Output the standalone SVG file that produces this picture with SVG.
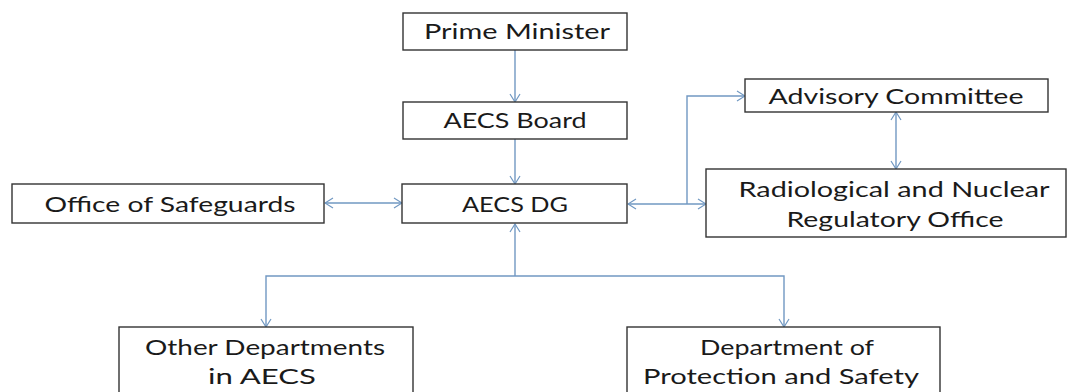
<svg xmlns="http://www.w3.org/2000/svg" width="1076" height="392" viewBox="0 0 1076 392">
<style>
.box{fill:#fff;stroke:#333;stroke-width:1.4}
.t{font-family:Lato,"Open Sans","Liberation Sans",sans-serif;font-size:22px;fill:#1a1a1a;text-anchor:middle}
.c{fill:none;stroke:#7198c2;stroke-width:1.4}
</style>
<defs>
<marker id="a" viewBox="0 0 10 12" refX="9" refY="6" markerWidth="10" markerHeight="12" markerUnits="userSpaceOnUse" orient="auto-start-reverse">
<path d="M1,1 L9,6 L1,11" fill="none" stroke="#7198c2" stroke-width="1.2"/>
</marker>
</defs>
<rect width="1076" height="392" fill="#fff"/>
<g id="connectors">
<path class="c" d="M515,50 V102" marker-end="url(#a)"/>
<path class="c" d="M515,139 V184" marker-end="url(#a)"/>
<path class="c" d="M325,203 H402" marker-start="url(#a)" marker-end="url(#a)"/>
<path class="c" d="M628,204 H706" marker-start="url(#a)" marker-end="url(#a)"/>
<path class="c" d="M687,204 V96 H745" marker-end="url(#a)"/>
<path class="c" d="M896,112 V169" marker-start="url(#a)" marker-end="url(#a)"/>
<path class="c" d="M515,276 V224" marker-end="url(#a)"/>
<path class="c" d="M266,327 V276 H784 V327" marker-start="url(#a)" marker-end="url(#a)"/>
</g>
<g id="prime-minister">
<rect class="box" x="403" y="13" width="224" height="37"/>
<text class="t" x="517" y="39" textLength="186" lengthAdjust="spacingAndGlyphs">Prime Minister</text>
</g>
<g id="aecs-board">
<rect class="box" x="403" y="102" width="224" height="37"/>
<text class="t" x="515" y="128" textLength="143" lengthAdjust="spacingAndGlyphs">AECS Board</text>
</g>
<g id="aecs-dg">
<rect class="box" x="402" y="184" width="225" height="39"/>
<text class="t" x="515" y="212" textLength="106" lengthAdjust="spacingAndGlyphs">AECS DG</text>
</g>
<g id="office-of-safeguards">
<rect class="box" x="12" y="184" width="312" height="39"/>
<text class="t" x="170" y="212" textLength="251" lengthAdjust="spacingAndGlyphs">Office of Safeguards</text>
</g>
<g id="advisory-committee">
<rect class="box" x="745" y="79" width="303" height="33"/>
<text class="t" x="896" y="104" textLength="255" lengthAdjust="spacingAndGlyphs">Advisory Committee</text>
</g>
<g id="radiological-office">
<rect class="box" x="706" y="169" width="360" height="68"/>
<text class="t" x="894" y="197" textLength="311" lengthAdjust="spacingAndGlyphs">Radiological and Nuclear</text>
<text class="t" x="895" y="227" textLength="217" lengthAdjust="spacingAndGlyphs">Regulatory Office</text>
</g>
<g id="other-departments">
<rect class="box" x="119" y="327" width="294" height="80"/>
<text class="t" x="265" y="355" textLength="240" lengthAdjust="spacingAndGlyphs">Other Departments</text>
<text class="t" x="262" y="384" textLength="108" lengthAdjust="spacingAndGlyphs">in AECS</text>
</g>
<g id="protection-safety">
<rect class="box" x="627" y="327" width="313" height="80"/>
<text class="t" x="787" y="355" textLength="174" lengthAdjust="spacingAndGlyphs">Department of</text>
<text class="t" x="781" y="384" textLength="276" lengthAdjust="spacingAndGlyphs">Protection and Safety</text>
</g>
</svg>
